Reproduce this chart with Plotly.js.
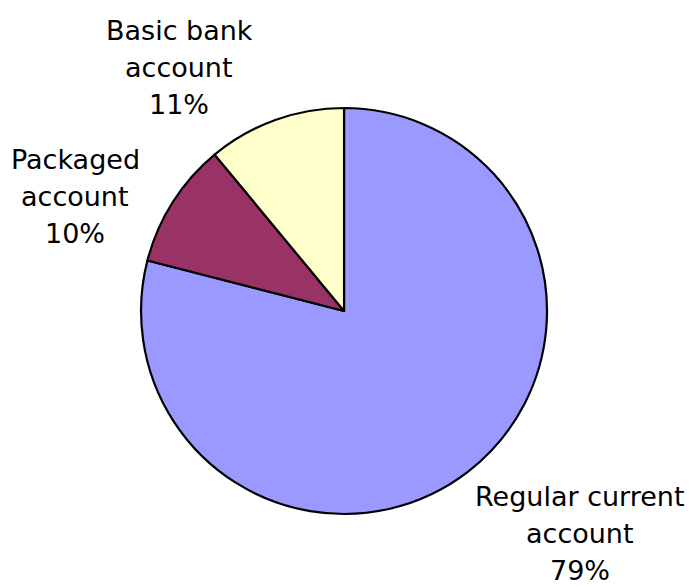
<!DOCTYPE html>
<html>
<head>
<meta charset="utf-8">
<script src="https://cdn.plot.ly/plotly-3.0.1.min.js"></script>
<style>html,body{margin:0;padding:0;background:#fff;}#chart{width:690px;height:587px;}</style>
</head>
<body>
<div id="chart"></div>
<script>
const categories = ["Regular current account", "Packaged account", "Basic bank account"];
const labelLines = [["Regular current", "account"], ["Packaged", "account"], ["Basic bank", "account"]];
const shares = [79, 10, 11];
const colors = ["#9999FF", "#993366", "#FFFFCC"];

// label placement (layout only): centre x and first baseline y, in pixels
const W = 690, H = 587;
const labelPos = [{x: 580, y: 505}, {x: 75, y: 168}, {x: 179.5, y: 39}];
const lineGap = 37.2;
const fontSize = 27;
const fontFam = "DejaVu Sans, Verdana, sans-serif";

const trace = {
  type: "pie",
  labels: categories,
  values: shares,
  sort: false,
  direction: "clockwise",
  rotation: 0,
  marker: {colors: colors, line: {color: "#000000", width: 2.2}},
  textinfo: "none",
  hoverinfo: "none",
  showlegend: false,
  domain: {x: [0.2044, 0.7928], y: [0.1244, 0.816]}
};

const annotations = [];
categories.forEach((c, i) => {
  const lines = labelLines[i].concat([shares[i] + "%"]);
  lines.forEach((t, k) => {
    const base = labelPos[i].y + k * lineGap;
    annotations.push({
      text: t,
      xref: "paper", yref: "paper",
      x: labelPos[i].x / W,
      y: 1 - (base - 9) / H,
      xanchor: "center", yanchor: "middle",
      showarrow: false,
      font: {family: fontFam, size: fontSize, color: "#000000"}
    });
  });
});

const layout = {
  width: W,
  height: H,
  margin: {l: 0, r: 0, t: 0, b: 0},
  paper_bgcolor: "#ffffff",
  showlegend: false,
  font: {family: fontFam, color: "#000000"},
  annotations: annotations
};

Plotly.newPlot("chart", [trace], layout, {displayModeBar: false, staticPlot: true});
</script>
</body>
</html>
